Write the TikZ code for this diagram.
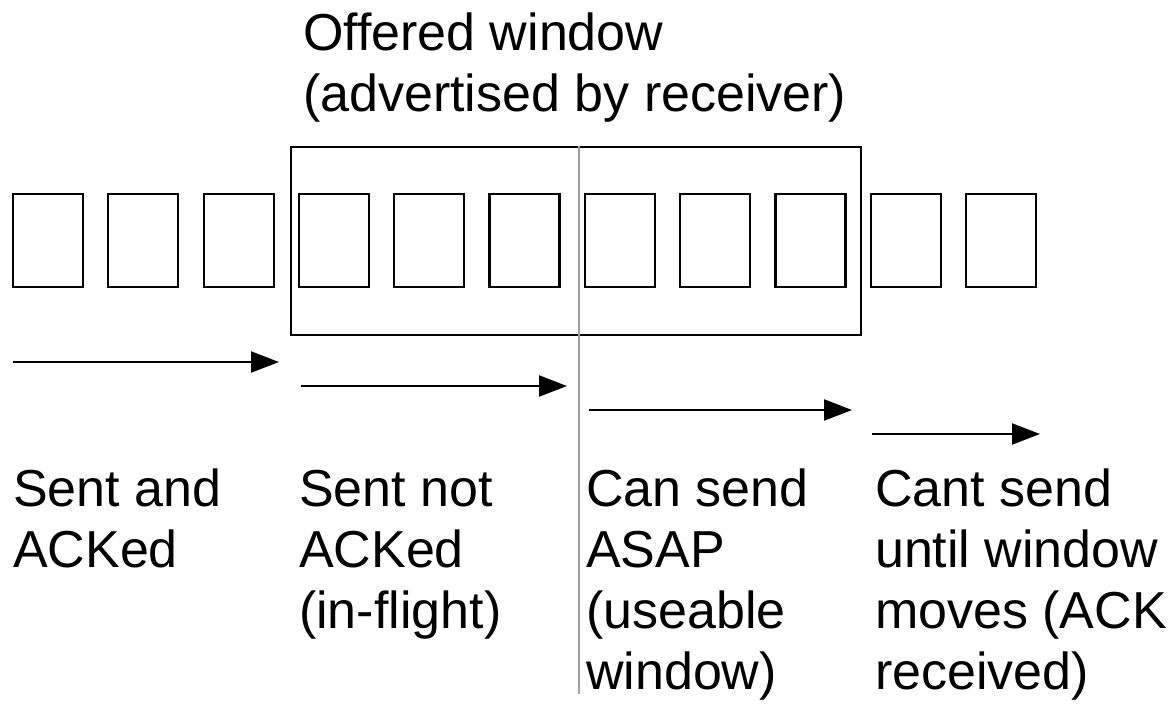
\documentclass[tikz,border=0pt]{standalone}
\usepackage{fontspec}
\setmainfont{Liberation Sans}
\usetikzlibrary{arrows.meta}
\newcommand{\firstline}{\rule{0pt}{40pt}}
\begin{document}
\begin{tikzpicture}[x=1pt, y=-1pt, line width=2.2pt,
  every node/.style={font=\fontsize{52}{61}\selectfont},
  cell/.style={draw,minimum width=70pt,minimum height=93pt,inner sep=0pt},
  label/.style={anchor=north west,align=left,inner sep=0pt},
  move/.style={-{Triangle[length=28pt,width=21pt]}}]
\useasboundingbox (0,0) rectangle (1170,704);
% segments of the byte stream
\foreach \i in {0,...,10}
  \node[cell] (c\i) at ({48+95.3*\i},240.5) {};
% offered window
\node[draw,minimum width=570pt,minimum height=188pt,inner sep=0pt] (win) at (576,241) {};
\node[label] (wtxt) at (302,9) {\firstline Offered window\\(advertised by receiver)};
% split between in-flight and useable
\coordinate (gbot) at (579,694);
\draw[gray!75] (win.north -| gbot) -- (gbot);
% arrows
\coordinate (a1s) at (13,362);   \coordinate (a1e) at (279,362);
\coordinate (a2s) at (301,386);  \coordinate (a2e) at (567,386);
\coordinate (a3s) at (589,410);  \coordinate (a3e) at (852,410);
\coordinate (a4s) at (872,434);  \coordinate (a4e) at (1040,434);
\draw[move] (a1s) -- (a1e);
\draw[move] (a2s) -- (a2e);
\draw[move] (a3s) -- (a3e);
\draw[move] (a4s) -- (a4e);
% categories
\node[label] (l1) at (12,465) {\firstline Sent and\\ACKed};
\node[label] (l2) at (298,465) {\firstline Sent not\\ACKed\\(in-flight)};
\node[label] (l3) at (585,465) {\firstline Can send\\ASAP\\(useable\\window)};
\node[label] (l4) at (874,465) {\firstline Cant send\\until window\\moves (ACK\\received)};
\end{tikzpicture}
\end{document}
